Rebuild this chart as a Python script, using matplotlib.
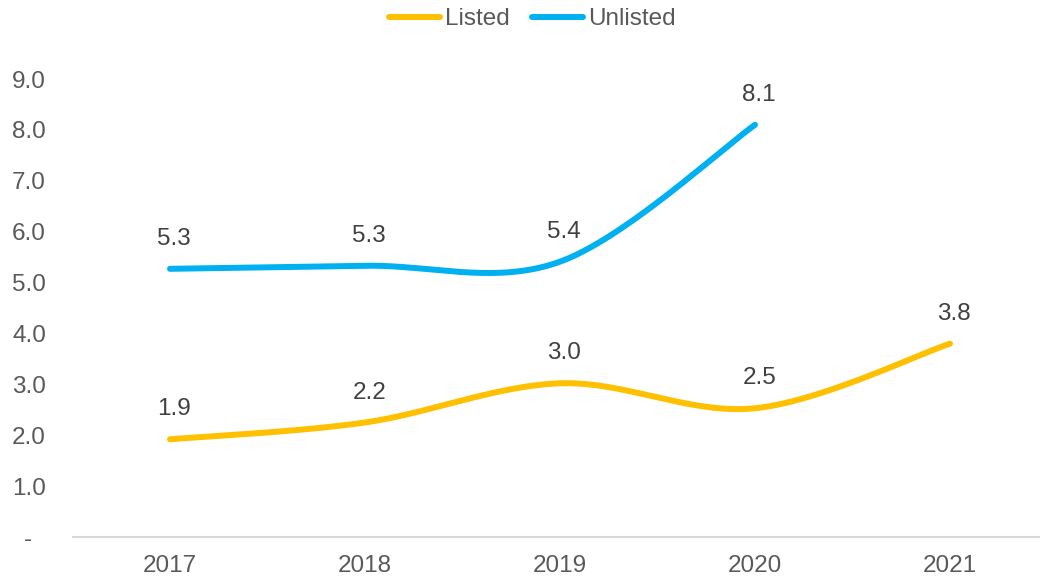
import numpy as np
import matplotlib
matplotlib.use("Agg")
import matplotlib.pyplot as plt
from matplotlib.lines import Line2D

plt.rcParams['font.family'] = ['Liberation Sans', 'DejaVu Sans']

years = ["2017", "2018", "2019", "2020", "2021"]
listed = [1.92, 2.25, 3.02, 2.53, 3.80]
unlisted = [5.27, 5.33, 5.41, 8.10]
y_ticks = [0, 1, 2, 3, 4, 5, 6, 7, 8, 9]

C_LISTED = "#FFC000"
C_UNLISTED = "#00B0F0"
C_TEXT = "#595959"
C_LABEL = "#404040"
FS = 17.5


def smooth(xs, ys, n=60):
    """Catmull-Rom style Bezier smoothing through every point."""
    xs = np.asarray(xs, float)
    ys = np.asarray(ys, float)
    px = np.concatenate([[xs[0]], xs, [xs[-1]]])
    py = np.concatenate([[ys[0]], ys, [ys[-1]]])
    out_x, out_y = [], []
    t = np.linspace(0, 1, n)
    for i in range(1, len(px) - 2):
        p0 = np.array([px[i], py[i]])
        p3 = np.array([px[i + 1], py[i + 1]])
        c1 = p0 + (np.array([px[i + 1], py[i + 1]]) - np.array([px[i - 1], py[i - 1]])) / 6
        c2 = p3 - (np.array([px[i + 2], py[i + 2]]) - np.array([px[i], py[i]])) / 6
        b = ((1 - t) ** 3)[:, None] * p0 + (3 * (1 - t) ** 2 * t)[:, None] * c1 \
            + (3 * (1 - t) * t ** 2)[:, None] * c2 + (t ** 3)[:, None] * p3
        out_x.extend(b[:, 0])
        out_y.extend(b[:, 1])
    return np.array(out_x), np.array(out_y)


fig = plt.figure(figsize=(10.4, 5.79), dpi=100)
W, H = 1040, 579
left, right = 72.5, 1040
bottom, top = 537, 79
ax = fig.add_axes([left / W, (H - bottom) / H, (right - left) / W, (bottom - top) / H])

step = 195.0
ax.set_xlim(-0.5, -0.5 + (right - left) / step)
ax.set_ylim(0, 9)

for vals, col in [(unlisted, C_UNLISTED), (listed, C_LISTED)]:
    xs = np.arange(len(vals))
    sx, sy = smooth(xs, vals)
    ax.plot(sx, sy, color=col, lw=4.3, solid_capstyle='round', zorder=3)
    for x, v in zip(xs, vals):
        ax.annotate(f"{v:.1f}", (x, v), xytext=(3, 21.5), textcoords='offset points',
                    ha='center', va='center', fontsize=FS, color=C_LABEL)

ax.set_xticks(range(len(years)))
ax.set_xticklabels(years)
ax.set_yticks(y_ticks)
ax.set_yticklabels(["-  "] + [f"{v:.1f}" for v in y_ticks[1:]])
ax.tick_params(axis='both', length=0, labelsize=FS, labelcolor=C_TEXT)
ax.tick_params(axis='y', pad=19)
ax.tick_params(axis='x', pad=13)

for s in ['left', 'right', 'top']:
    ax.spines[s].set_visible(False)
ax.spines['bottom'].set_color('#D9D9D9')
ax.spines['bottom'].set_linewidth(1.5)

handles = [Line2D([], [], color=C_LISTED, lw=4.3, solid_capstyle='round'),
           Line2D([], [], color=C_UNLISTED, lw=4.3, solid_capstyle='round')]
fig.legend(handles, ["Listed", "Unlisted"], loc='center', bbox_to_anchor=(0.512, 1 - 19 / H),
           ncol=2, frameon=False, fontsize=FS, handlelength=2.1, handletextpad=0.2,
           columnspacing=0.9, labelcolor=C_TEXT, borderpad=0)

fig.savefig("out.png", dpi=100)
